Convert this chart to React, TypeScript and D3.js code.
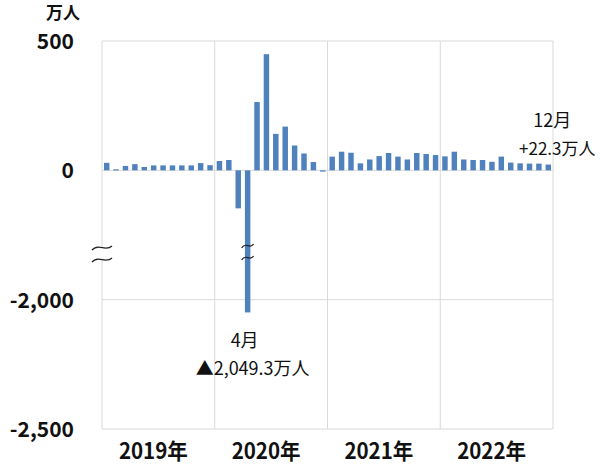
import React from "react";
import * as d3 from "d3";

const years = ["2019年", "2020年", "2021年", "2022年"];
const v2019 = [29, 4, 17, 24, 13, 19, 19, 19, 19, 19, 28, 20];
const v2020 = [36, 40, -147, -2049.3, 264, 449, 141, 169, 96, 65, 32, -5];
const v2021 = [53, 72, 68, 27, 42, 55, 67, 53, 42, 67, 63, 59];
const v2022 = [54, 72, 42, 40, 40, 33, 53, 30, 27, 26, 26, 22.3];
const yTicks = [500, 0, -2000, -2500];
const yTickLabels = ["500", "0", "-2,000", "-2,500"];
const breakFrom = -500;
const breakSize = 1500;

const values = [...v2019, ...v2020, ...v2021, ...v2022];
const months = values.map((_, i) => `${2019 + Math.floor(i / 12)}-${(i % 12) + 1}`);

const W = 600;
const H = 466;
const left = 102;
const right = 553;
const top = 41;
const bottom = 429;

const disp = (v: number) => (v < breakFrom ? v + breakSize : v);

export default function App() {
  const x = d3.scaleBand<string>().domain(months).range([left, right]).paddingInner(0.42).paddingOuter(0.21);
  const y = d3.scaleLinear().domain([500, -1000]).range([top, bottom]);
  const yearX = d3.scaleBand<string>().domain(years).range([left, right]);
  const grid = "#d9d9d9";
  const barColor = "#4F81BD";
  const font = "'Noto Sans CJK JP', 'Noto Sans', sans-serif";

  const aprIdx = 15;
  const aprX = (x(months[aprIdx]) as number) + x.bandwidth() / 2;
  const decIdx = 47;
  const decX = (x(months[decIdx]) as number) + x.bandwidth() / 2;
  const breakY1 = 248;
  const breakY2 = 260;

  const tilde = (cx: number, cy: number, hw: number) =>
    `M${cx - hw},${cy + 2} C${cx - hw / 3},${cy - 5} ${cx + hw / 3},${cy + 4} ${cx + hw},${cy - 2}`;

  return (
    <svg width={W} height={H} style={{ position: "absolute", left: 0, top: 0, background: "#fff" }}>
      {/* horizontal gridlines */}
      {yTicks.map((t) => (
        <line key={t} x1={left} x2={right} y1={y(disp(t))} y2={y(disp(t))} stroke={grid} strokeWidth={1} />
      ))}
      {/* vertical gridlines */}
      {years.map((yr) => (
        <line key={yr} x1={yearX(yr)} x2={yearX(yr)} y1={top} y2={bottom} stroke={grid} strokeWidth={1} />
      ))}
      <line x1={right} x2={right} y1={top} y2={bottom} stroke={grid} strokeWidth={1} />

      {/* bars */}
      {values.map((v, i) => {
        const y0 = y(0);
        const y1 = y(disp(v));
        return (
          <rect
            key={months[i]}
            x={x(months[i])}
            width={x.bandwidth()}
            y={Math.min(y0, y1)}
            height={Math.max(1.2, Math.abs(y1 - y0))}
            fill={barColor}
          />
        );
      })}

      {/* axis break marks */}
      <rect x={left - 2} y={breakY1} width={4} height={breakY2 - breakY1} fill="#fff" />
      <path d={tilde(left, breakY1, 10)} fill="none" stroke="#222" strokeWidth={1.3} />
      <path d={tilde(left, breakY2, 10)} fill="none" stroke="#222" strokeWidth={1.3} />
      <path d={tilde(aprX, breakY1 - 2, 6)} fill="none" stroke="#222" strokeWidth={1.3} />
      <path d={tilde(aprX, breakY2 - 2, 6)} fill="none" stroke="#222" strokeWidth={1.3} />

      {/* y tick labels */}
      <text x={80} y={19} textAnchor="end" fontFamily={font} fontWeight="bold" fontSize={17} fill="#111">
        万人
      </text>
      {yTicks.map((t, i) => (
        <text
          key={t}
          x={74}
          y={y(disp(t)) + 8}
          textAnchor="end"
          fontFamily={font}
          fontWeight="bold"
          fontSize={21}
          fill="#111"
        >
          {yTickLabels[i]}
        </text>
      ))}

      {/* x labels */}
      {years.map((yr) => (
        <text
          key={yr}
          x={(yearX(yr) as number) + yearX.bandwidth() / 2 - 5}
          y={459}
          textAnchor="middle"
          fontFamily={font}
          fontWeight="bold"
          fontSize={22}
          textLength={69}
          lengthAdjust="spacingAndGlyphs"
          fill="#111"
        >
          {yr}
        </text>
      ))}

      {/* annotations */}
      <text x={aprX - 3} y={347} textAnchor="middle" fontFamily={font} fontSize={18} fill="#111">
        4月
      </text>
      <text x={aprX + 5} y={375} textAnchor="middle" fontFamily={font} fontSize={18} fill="#111">
        ▲2,049.3万人
      </text>
      <text x={decX + 4} y={127} textAnchor="middle" fontFamily={font} fontSize={18} fill="#111">
        12月
      </text>
      <text x={decX + 9} y={155} textAnchor="middle" fontFamily={font} fontSize={17} fill="#111">
        +22.3万人
      </text>
    </svg>
  );
}
